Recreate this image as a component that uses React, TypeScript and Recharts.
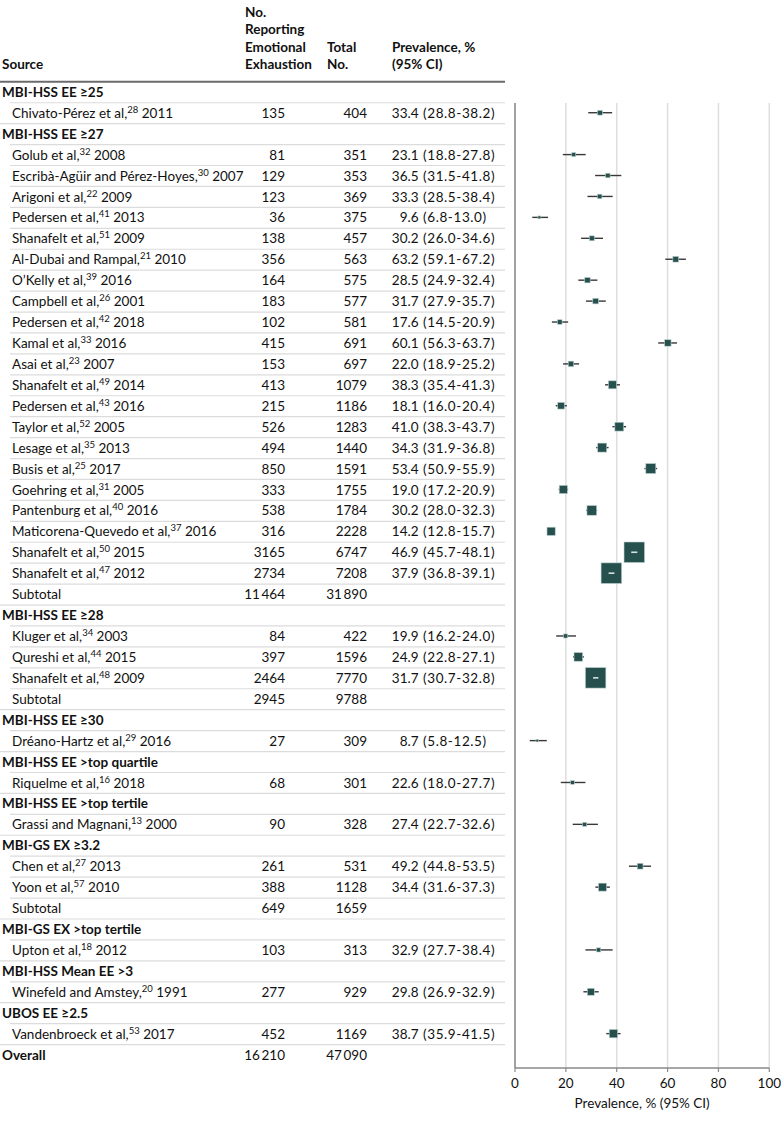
import React from 'react';
import { ComposedChart, Bar, XAxis, YAxis, CartesianGrid } from 'recharts';

const FONT = 'Lato, "Open Sans", sans-serif';
const FS = 13.5;

type Kind = 'group' | 'study' | 'subtotal' | 'overall';

const rowKinds: Kind[] = [
  'group', 'study',
  'group', 'study', 'study', 'study', 'study', 'study', 'study', 'study', 'study', 'study', 'study', 'study',
  'study', 'study', 'study', 'study', 'study', 'study', 'study', 'study', 'study', 'study', 'subtotal',
  'group', 'study', 'study', 'study', 'subtotal',
  'group', 'study',
  'group', 'study',
  'group', 'study',
  'group', 'study', 'study', 'subtotal',
  'group', 'study',
  'group', 'study',
  'group', 'study',
  'overall',
];

const rowLabels: string[] = [
  'MBI-HSS EE ≥25', 'Chivato-Pérez et al,',
  'MBI-HSS EE ≥27', 'Golub et al,', 'Escribà-Agüir and Pérez-Hoyes,', 'Arigoni et al,', 'Pedersen et al,',
  'Shanafelt et al,', 'Al-Dubai and Rampal,', 'O’Kelly et al,', 'Campbell et al,', 'Pedersen et al,',
  'Kamal et al,', 'Asai et al,', 'Shanafelt et al,', 'Pedersen et al,', 'Taylor et al,', 'Lesage et al,',
  'Busis et al,', 'Goehring et al,', 'Pantenburg et al,', 'Maticorena-Quevedo et al,', 'Shanafelt et al,',
  'Shanafelt et al,', 'Subtotal',
  'MBI-HSS EE ≥28', 'Kluger et al,', 'Qureshi et al,', 'Shanafelt et al,', 'Subtotal',
  'MBI-HSS EE ≥30', 'Dréano-Hartz et al,',
  'MBI-HSS EE >top quartile', 'Riquelme et al,',
  'MBI-HSS EE >top tertile', 'Grassi and Magnani,',
  'MBI-GS EX ≥3.2', 'Chen et al,', 'Yoon et al,', 'Subtotal',
  'MBI-GS EX >top tertile', 'Upton et al,',
  'MBI-HSS Mean EE >3', 'Winefeld and Amstey,',
  'UBOS EE ≥2.5', 'Vandenbroeck et al,',
  'Overall',
];

const refNums: (string | null)[] = [
  null, '28',
  null, '32', '30', '22', '41', '51', '21', '39', '26', '42', '33', '23', '49', '43', '52', '35', '25', '31', '40', '37', '50', '47', null,
  null, '34', '44', '48', null,
  null, '29',
  null, '16',
  null, '13',
  null, '27', '57', null,
  null, '18',
  null, '20',
  null, '53',
  null,
];

const years: (string | null)[] = [
  null, '2011',
  null, '2008', '2007', '2009', '2013', '2009', '2010', '2016', '2001', '2018', '2016', '2007', '2014', '2016', '2005', '2013', '2017', '2005', '2016', '2016', '2015', '2012', null,
  null, '2003', '2015', '2009', null,
  null, '2016',
  null, '2018',
  null, '2000',
  null, '2013', '2010', null,
  null, '2012',
  null, '1991',
  null, '2017',
  null,
];

const events: (number | null)[] = [
  null, 135,
  null, 81, 129, 123, 36, 138, 356, 164, 183, 102, 415, 153, 413, 215, 526, 494, 850, 333, 538, 316, 3165, 2734, 11464,
  null, 84, 397, 2464, 2945,
  null, 27,
  null, 68,
  null, 90,
  null, 261, 388, 649,
  null, 103,
  null, 277,
  null, 452,
  16210,
];

const totals: (number | null)[] = [
  null, 404,
  null, 351, 353, 369, 375, 457, 563, 575, 577, 581, 691, 697, 1079, 1186, 1283, 1440, 1591, 1755, 1784, 2228, 6747, 7208, 31890,
  null, 422, 1596, 7770, 9788,
  null, 309,
  null, 301,
  null, 328,
  null, 531, 1128, 1659,
  null, 313,
  null, 929,
  null, 1169,
  47090,
];

const estimates: (number | null)[] = [
  null, 33.4,
  null, 23.1, 36.5, 33.3, 9.6, 30.2, 63.2, 28.5, 31.7, 17.6, 60.1, 22.0, 38.3, 18.1, 41.0, 34.3, 53.4, 19.0, 30.2, 14.2, 46.9, 37.9, null,
  null, 19.9, 24.9, 31.7, null,
  null, 8.7,
  null, 22.6,
  null, 27.4,
  null, 49.2, 34.4, null,
  null, 32.9,
  null, 29.8,
  null, 38.7,
  null,
];

const lowers: (number | null)[] = [
  null, 28.8,
  null, 18.8, 31.5, 28.5, 6.8, 26.0, 59.1, 24.9, 27.9, 14.5, 56.3, 18.9, 35.4, 16.0, 38.3, 31.9, 50.9, 17.2, 28.0, 12.8, 45.7, 36.8, null,
  null, 16.2, 22.8, 30.7, null,
  null, 5.8,
  null, 18.0,
  null, 22.7,
  null, 44.8, 31.6, null,
  null, 27.7,
  null, 26.9,
  null, 35.9,
  null,
];

const uppers: (number | null)[] = [
  null, 38.2,
  null, 27.8, 41.8, 38.4, 13.0, 34.6, 67.2, 32.4, 35.7, 20.9, 63.7, 25.2, 41.3, 20.4, 43.7, 36.8, 55.9, 20.9, 32.3, 15.7, 48.1, 39.1, null,
  null, 24.0, 27.1, 32.8, null,
  null, 12.5,
  null, 27.7,
  null, 32.6,
  null, 53.5, 37.3, null,
  null, 38.4,
  null, 32.9,
  null, 41.5,
  null,
];

const xTicks = [0, 20, 40, 60, 80, 100];
const xAxisTitle = 'Prevalence, % (95% CI)';
const headerLines = {
  source: ['Source'],
  events: ['No.', 'Reporting', 'Emotional', 'Exhaustion'],
  total: ['Total', 'No.'],
  prevalence: ['Prevalence, %', '(95% CI)'],
};

const data = rowLabels.map((label, i) => ({
  rowId: `row${i}`,
  label,
  kind: rowKinds[i],
  ref: refNums[i],
  year: years[i],
  events: events[i],
  total: totals[i],
  est: estimates[i],
  lo: lowers[i],
  hi: uppers[i],
  ci: estimates[i] == null ? null : [lowers[i], uppers[i]],
}));

const byId: Record<string, (typeof data)[number]> = {};
data.forEach((d) => {
  byId[d.rowId] = d;
});

const fmtCount = (n: number | null) => {
  if (n == null) return '';
  const s = String(n);
  if (s.length >= 5) return s.slice(0, s.length - 3) + '\u2009' + s.slice(s.length - 3);
  return s;
};

// column positions (table)
const COL_SRC_GROUP = 2;
const COL_SRC_STUDY = 12;
const COL_EVENTS_R = 285;
const COL_TOTAL_R = 367;
const COL_PREV_L = 392;
const COL_EST_R = 418.5;
const COL_CI_L = 423;
const TABLE_R = 505;
const ROW_H = 20.93;
const HEAD_LH = 17.3;
const TEXT = '#111';

const TableRow = (props: any) => {
  const { y, payload } = props;
  const row = byId[payload.value];
  if (!row) return null;
  const idx = data.indexOf(row);
  const base = y + 4.6;
  const next = data[idx + 1];
  const isHeader = row.kind === 'group' || row.kind === 'overall';
  const sepStart = next && (next.kind === 'group' || next.kind === 'overall') ? 0 : 10;
  const ruleY = y - ROW_H / 2;
  const lastBase = ruleY - 12.8;
  const header =
    idx === 0 ? (
      <g fontWeight={700} fontSize={FS} fill={TEXT}>
        {headerLines.events.map((t, k, arr) => (
          <text key={`e${k}`} x={245} y={lastBase - (arr.length - 1 - k) * HEAD_LH}>
            {t}
          </text>
        ))}
        {headerLines.total.map((t, k, arr) => (
          <text key={`t${k}`} x={327} y={lastBase - (arr.length - 1 - k) * HEAD_LH}>
            {t}
          </text>
        ))}
        {headerLines.prevalence.map((t, k, arr) => (
          <text key={`p${k}`} x={COL_PREV_L} y={lastBase - (arr.length - 1 - k) * HEAD_LH}>
            {t}
          </text>
        ))}
        <text x={COL_SRC_GROUP} y={lastBase}>
          {headerLines.source[0]}
        </text>
        <line x1={0} x2={TABLE_R} y1={ruleY} y2={ruleY} stroke="#6b6b6b" strokeWidth={2} />
      </g>
    ) : null;
  return (
    <g fontFamily={FONT}>
      {header}
      <text
        x={isHeader ? COL_SRC_GROUP : COL_SRC_STUDY}
        y={base}
        fontSize={FS}
        fontWeight={isHeader ? 700 : 400}
        fill={TEXT}
        textAnchor="start"
      >
        {row.label}
        {row.ref && (
          <tspan fontSize={9.5} dy={-5}>
            {row.ref}
          </tspan>
        )}
        {row.year && <tspan dy={row.ref ? 5 : 0}>{' ' + row.year}</tspan>}
      </text>
      {row.events != null && (
        <text x={COL_EVENTS_R} y={base} fontSize={FS} textAnchor="end" fill={TEXT}>
          {fmtCount(row.events)}
        </text>
      )}
      {row.total != null && (
        <text x={COL_TOTAL_R} y={base} fontSize={FS} textAnchor="end" fill={TEXT}>
          {fmtCount(row.total)}
        </text>
      )}
      {row.est != null && (
        <text x={COL_EST_R} y={base} fontSize={FS} textAnchor="end" fill={TEXT}>
          {row.est.toFixed(1)}
        </text>
      )}
      {row.est != null && (
        <text x={COL_CI_L} y={base} fontSize={FS} textAnchor="start" fill={TEXT} letterSpacing={0.6}>
          {`(${(row.lo as number).toFixed(1)}-${(row.hi as number).toFixed(1)})`}
        </text>
      )}
      {next && (
        <line
          x1={sepStart}
          x2={TABLE_R}
          y1={y + ROW_H / 2}
          y2={y + ROW_H / 2}
          stroke="#dcdcdc"
          strokeWidth={1.2}
        />
      )}
    </g>
  );
};

const ForestMark = (props: any) => {
  const { x, y, width, height, payload } = props;
  if (!payload || payload.est == null || !isFinite(x) || !isFinite(width)) return null;
  const cy = y + height / 2;
  const px = x + ((payload.est - payload.lo) / (payload.hi - payload.lo)) * width;
  const side = 0.5 * Math.sqrt((payload.events * (payload.total - payload.events)) / payload.total);
  const half = side / 2;
  const inside = width < side - 1;
  return (
    <g>
      {!inside && <line x1={x} x2={x + width} y1={cy} y2={cy} stroke="#383838" strokeWidth={1.4} />}
      <rect x={px - half} y={cy - half} width={side} height={side} fill="#25504e" stroke="#b9d0cd" strokeWidth={0.6} />
      {inside && <line x1={x} x2={x + width} y1={cy} y2={cy} stroke="#d5e1e0" strokeWidth={1.6} />}
    </g>
  );
};

const AxisTitle = (props: any) => {
  const vb = props.viewBox || { x: 515, y: 1068, width: 254, height: 53 };
  return (
    <text
      x={vb.x + vb.width / 2}
      y={vb.y + 39.5}
      textAnchor="middle"
      fontFamily={FONT}
      fontSize={FS}
      fill={TEXT}
    >
      {xAxisTitle}
    </text>
  );
};

export default function App() {
  return (
    <div style={{ position: 'absolute', left: 0, top: 0, width: 783, height: 1121, background: '#fff' }}>
      <ComposedChart
        width={783}
        height={1121}
        data={data}
        layout="vertical"
        margin={{ top: 103, right: 13.7, bottom: 0, left: 0 }}
      >
        <CartesianGrid horizontal={false} stroke="#dedede" strokeWidth={1.5} />
        <XAxis
          type="number"
          domain={[0, 100]}
          ticks={xTicks}
          allowDataOverflow
          height={53}
          axisLine={{ stroke: '#8a8a8a', strokeWidth: 1.5 }}
          tickLine={{ stroke: '#8a8a8a', strokeWidth: 1.2 }}
          tickSize={4}
          tickMargin={6}
          tick={{ fontFamily: FONT, fontSize: FS, fill: TEXT }}
          label={<AxisTitle />}
        />
        <YAxis
          type="category"
          dataKey="rowId"
          width={515}
          interval={0}
          padding={{ top: -21.2, bottom: 2.5 }}
          axisLine={{ stroke: '#8a8a8a', strokeWidth: 1.5 }}
          tickLine={false}
          tick={<TableRow />}
        />
        <Bar dataKey="ci" barSize={2} isAnimationActive={false} shape={<ForestMark />} />
      </ComposedChart>
    </div>
  );
}
